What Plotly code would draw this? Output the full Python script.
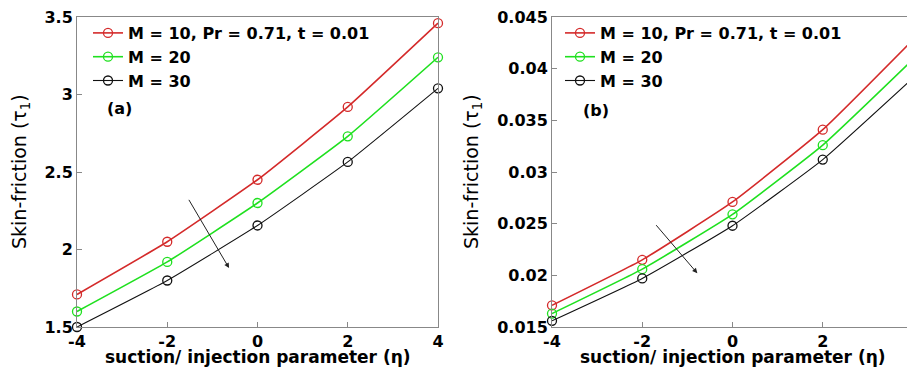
import plotly.graph_objects as go

eta = [-4, -2, 0, 2, 4]
names = ["M = 10, Pr = 0.71, t = 0.01", "M = 20", "M = 30"]
colors = ["#d42a2a", "#1fe01f", "#111111"]
widths = [1.6, 1.6, 1.1]

a_M10 = [1.71, 2.05, 2.45, 2.92, 3.46]
a_M20 = [1.60, 1.92, 2.30, 2.73, 3.24]
a_M30 = [1.50, 1.80, 2.155, 2.565, 3.04]

b_M10 = [0.0171, 0.0215, 0.0271, 0.0341, 0.0428]
b_M20 = [0.0163, 0.0206, 0.0259, 0.0326, 0.0409]
b_M30 = [0.0156, 0.0197, 0.0248, 0.0312, 0.0391]

a_ticks = [1.5, 2, 2.5, 3, 3.5]
a_ticktext = ["1.5", "2", "2.5", "3", "3.5"]
b_ticks = [0.015, 0.02, 0.025, 0.03, 0.035, 0.04, 0.045]
b_ticktext = ["0.015", "0.02", "0.025", "0.03", "0.035", "0.04", "0.045"]
x_ticks = [-4, -2, 0, 2, 4]

FONT = "DejaVu Sans"
W, H = 915, 372
OFF = 8  # page body margin of the html page


def px(x):
    return (x - OFF) / W


def py(y):
    return 1 - (y - OFF) / H


fig = go.Figure()

for i, ys in enumerate([a_M10, a_M20, a_M30]):
    fig.add_trace(go.Scatter(
        x=eta, y=ys, name="<b>%s</b>" % names[i], mode="lines+markers",
        line=dict(color=colors[i], width=widths[i], shape="spline", smoothing=0.4),
        marker=dict(symbol="circle-open", size=9, color=colors[i], line=dict(width=1.3)),
        xaxis="x", yaxis="y", legend="legend", cliponaxis=False))
for i, ys in enumerate([b_M10, b_M20, b_M30]):
    fig.add_trace(go.Scatter(
        x=eta, y=ys, name="<b>%s</b>" % names[i], mode="lines+markers",
        line=dict(color=colors[i], width=widths[i], shape="spline", smoothing=0.4),
        marker=dict(symbol="circle-open", size=9, color=colors[i], line=dict(width=1.3)),
        xaxis="x2", yaxis="y2", legend="legend2", cliponaxis=False))

ax_common = dict(showline=True, linecolor="#888888", linewidth=1, mirror=True,
                 ticks="inside", ticklen=5, tickcolor="#888888", showgrid=False,
                 zeroline=False, automargin=False, ticklabeloverflow="allow",
                 tickfont=dict(family=FONT, size=16, color="black"))

leg_common = dict(xanchor="left", yanchor="top", bgcolor="rgba(0,0,0,0)",
                  font=dict(family=FONT, size=16, color="black"),
                  tracegroupgap=0, itemwidth=30)
fig.update_layout(
    width=W, height=H, margin=dict(l=0, r=0, t=0, b=0, autoexpand=False),
    paper_bgcolor="white", plot_bgcolor="white",
    xaxis=dict(domain=[px(77), px(438)], range=[-4, 4], tickvals=x_ticks,
               ticktext=["<b>%d</b>" % v for v in x_ticks], anchor="y", **ax_common),
    yaxis=dict(domain=[py(327), py(17)], range=[1.5, 3.5], tickvals=a_ticks,
               ticktext=["<b>%s</b>" % t for t in a_ticktext], anchor="x", **ax_common),
    xaxis2=dict(domain=[px(552), px(913)], range=[-4, 4], tickvals=x_ticks,
                ticktext=["<b>%d</b>" % v for v in x_ticks], anchor="y2", **ax_common),
    yaxis2=dict(domain=[py(327), py(17)], range=[0.015, 0.045], tickvals=b_ticks,
                ticktext=["<b>%s</b>" % t for t in b_ticktext], anchor="x2", **ax_common),
    legend=dict(x=px(88), y=py(16), **leg_common),
    legend2=dict(x=px(560), y=py(16), **leg_common),
    showlegend=True,
)

# axis titles
for cx, yx in [((77 + 438) / 2, 20), ((552 + 913) / 2, 472)]:
    fig.add_annotation(x=px(cx), y=py(357), xref="paper", yref="paper",
                       xanchor="center", yanchor="middle",
                       text="<b>suction/ injection parameter (η)</b>", showarrow=False,
                       font=dict(family=FONT, size=17, color="black"))
    fig.add_annotation(x=px(yx), y=py(172), xref="paper", yref="paper", textangle=-90,
                       xanchor="center", yanchor="middle",
                       text="Skin-friction (τ<sub>1</sub>)", showarrow=False,
                       font=dict(family=FONT, size=19, color="black"))

fig.add_annotation(x=-0.63, y=1.88, ax=-1.54, ay=2.33, xref="x", yref="y", axref="x", ayref="y",
                   showarrow=True, arrowhead=2, arrowsize=1, arrowwidth=1, arrowcolor="#222222", text="")
fig.add_annotation(x=-0.78, y=0.0202, ax=-1.72, ay=0.0250, xref="x2", yref="y2", axref="x2", ayref="y2",
                   showarrow=True, arrowhead=2, arrowsize=1, arrowwidth=1, arrowcolor="#222222", text="")
fig.add_annotation(x=-3.05, y=2.91, xref="x", yref="y", text="<b>(a)</b>", showarrow=False,
                   font=dict(family=FONT, size=16, color="black"))
fig.add_annotation(x=-3.02, y=0.036, xref="x2", yref="y2", text="<b>(b)</b>", showarrow=False,
                   font=dict(family=FONT, size=16, color="black"))

fig.write_html("out.html")
